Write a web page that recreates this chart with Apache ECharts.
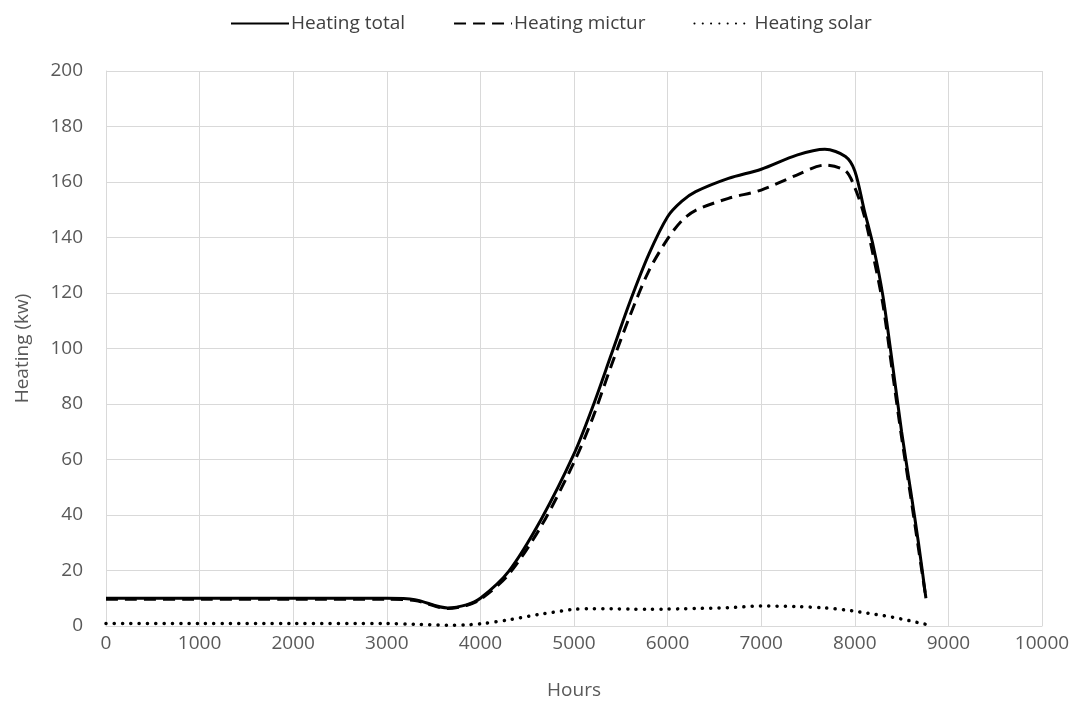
<!DOCTYPE html>
<html>
<head>
<meta charset="utf-8">
<script src="https://cdn.jsdelivr.net/npm/echarts@6/dist/echarts.min.js"></script>
<style>
html,body{margin:0;padding:0;background:#fff;}
#chart{width:1080px;height:709px;}
</style>
</head>
<body>
<div id="chart"></div>
<script>
const hours = [0, 1000, 2000, 3000, 3300, 3650, 3850, 4000, 4300, 4650, 5000, 5200, 5400, 5600, 5800, 6000, 6150, 6300, 6650, 7000, 7380, 7680, 7900, 8000, 8100, 8200, 8300, 8400, 8500, 8600, 8680, 8760];
const heatingTotal = [10, 10, 10, 10, 9.5, 6.5, 7.6, 10, 19.6, 38.5, 62, 79, 98, 117, 134, 147.5, 153, 156.5, 161.3, 164.6, 169.7, 171.8, 169.2, 164, 150, 136.5, 119, 95, 70, 48, 30, 10];
const heatingMictur = [9.6, 9.6, 9.6, 9.6, 9.2, 6.3, 7.4, 9.6, 18.5, 36, 59, 75, 94, 112, 128, 139.5, 146, 149.8, 154.1, 157.1, 162.5, 166.1, 164, 158, 148, 133, 116, 92, 68, 46, 28, 10];
const heatingSolar = [0.9, 0.9, 0.9, 0.9, 0.6, 0.3, 0.4, 0.8, 2.2, 4.3, 6.0, 6.2, 6.2, 6.1, 6.0, 6.1, 6.2, 6.3, 6.6, 7.2, 7.0, 6.5, 5.8, 5.3, 4.8, 4.3, 3.8, 3.2, 2.5, 1.8, 1.2, 0.6];
const seriesNames = ['Heating total', 'Heating mictur', 'Heating solar'];

const pairs = arr => hours.map((h, i) => [h, arr[i]]);
const font = 'Open Sans';
const chart = echarts.init(document.getElementById('chart'));
chart.setOption({
  animation: false,
  backgroundColor: '#ffffff',
  textStyle: { fontFamily: font },
  legend: {
    top: 9,
    left: 225,
    itemWidth: 58,
    itemHeight: 14,
    itemGap: 48,
    itemStyle: { opacity: 0 },
    textStyle: { fontFamily: font, fontSize: 19, color: '#404040', padding: [0, 0, 0, -3] },
    data: seriesNames
  },
  grid: { left: 106, right: 38, top: 71, bottom: 83 },
  xAxis: {
    type: 'value', min: 0, max: 10000, interval: 1000,
    name: 'Hours', nameLocation: 'middle', nameGap: 55,
    nameTextStyle: { fontFamily: font, fontSize: 19, color: '#595959' },
    axisLine: { show: true, lineStyle: { color: '#d9d9d9', width: 1 } },
    axisTick: { show: false },
    axisLabel: { fontFamily: font, fontSize: 19, color: '#595959', margin: 8, formatter: v => String(v) },
    splitLine: { show: true, lineStyle: { color: '#d9d9d9', width: 1 } }
  },
  yAxis: {
    type: 'value', min: 0, max: 200, interval: 20,
    name: 'Heating (kw)', nameLocation: 'middle', nameGap: 74, nameRotate: 90,
    nameTextStyle: { fontFamily: font, fontSize: 19, color: '#595959' },
    axisLine: { show: true, lineStyle: { color: '#d9d9d9', width: 1 } },
    axisTick: { show: false },
    axisLabel: { fontFamily: font, fontSize: 19, color: '#595959', margin: 23, formatter: v => String(v) },
    splitLine: { show: true, lineStyle: { color: '#d9d9d9', width: 1 } }
  },
  series: [
    {
      name: seriesNames[0], type: 'line', data: pairs(heatingTotal),
      smooth: 0.3, symbol: 'none', z: 3,
      lineStyle: { color: '#000000', width: 3, type: 'solid' },
      itemStyle: { color: '#000000' }
    },
    {
      name: seriesNames[1], type: 'line', data: pairs(heatingMictur),
      smooth: 0.3, symbol: 'none', z: 2,
      lineStyle: { color: '#000000', width: 3, type: [12, 7], cap: 'butt' },
      itemStyle: { color: '#000000' }
    },
    {
      name: seriesNames[2], type: 'line', data: pairs(heatingSolar),
      smooth: 0.3, symbol: 'none', z: 1,
      lineStyle: { color: '#000000', width: 3.5, type: [0.1, 8.2], cap: 'round' },
      itemStyle: { color: '#000000' }
    }
  ]
});
</script>
</body>
</html>
